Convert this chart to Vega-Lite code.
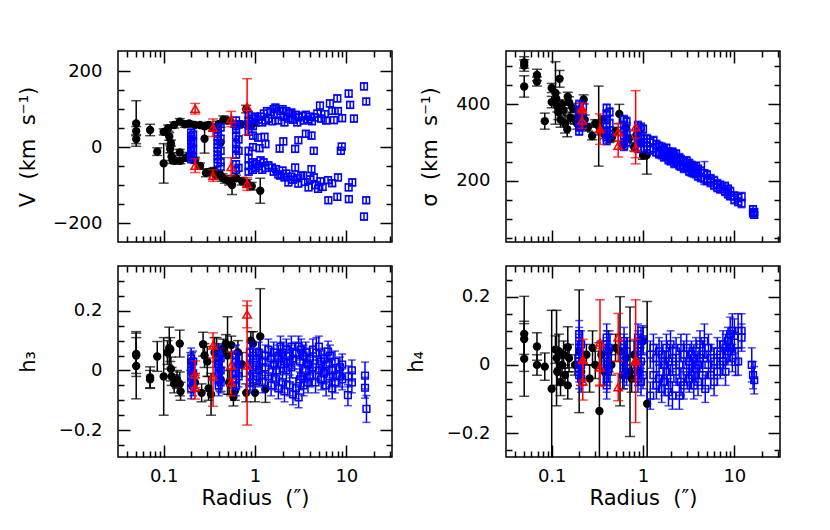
{
"$schema":"https://vega.github.io/schema/vega-lite/v6.json",
"padding":{"left":16,"top":49,"right":5,"bottom":5},
"background":"white",
"columns":2,
"spacing":{"row":24,"column":114},
"bounds":"flush",
"config":{"view":{"stroke":"black","strokeWidth":1.5},"axis":{"grid":false,"domain":false,"labelFont":"DejaVu Sans","labelFontSize":18,"labelColor":"black","titleFont":"DejaVu Sans","titleFontSize":21,"titleFontWeight":"normal","titleColor":"black","tickColor":"black","tickWidth":1.5}},
"datasets":{
"vk":[{"r":0.05,"y":62,"e":60},{"r":0.05,"y":42,"e":12},{"r":0.05,"y":21,"e":12},{"r":0.071,"y":45,"e":15},{"r":0.085,"y":-12,"e":10},{"r":0.1,"y":40,"e":8},{"r":0.1,"y":-43,"e":52},{"r":0.112,"y":50,"e":8},{"r":0.115,"y":28,"e":10},{"r":0.118,"y":-5,"e":10},{"r":0.12,"y":10,"e":8},{"r":0.122,"y":-25,"e":10},{"r":0.125,"y":-35,"e":8},{"r":0.13,"y":58,"e":8},{"r":0.133,"y":-36,"e":8},{"r":0.15,"y":67,"e":8},{"r":0.15,"y":-14,"e":8},{"r":0.152,"y":-36,"e":8},{"r":0.17,"y":60,"e":8},{"r":0.175,"y":-28,"e":8},{"r":0.19,"y":62,"e":6},{"r":0.19,"y":-22,"e":8},{"r":0.22,"y":58,"e":6},{"r":0.22,"y":-35,"e":8},{"r":0.25,"y":58,"e":6},{"r":0.25,"y":-50,"e":8},{"r":0.28,"y":22,"e":38},{"r":0.28,"y":55,"e":6},{"r":0.29,"y":-68,"e":10},{"r":0.31,"y":58,"e":8},{"r":0.32,"y":-65,"e":8},{"r":0.35,"y":52,"e":8},{"r":0.36,"y":-62,"e":8},{"r":0.37,"y":-75,"e":10},{"r":0.4,"y":60,"e":8},{"r":0.42,"y":12,"e":40},{"r":0.41,"y":-70,"e":8},{"r":0.44,"y":-80,"e":10},{"r":0.45,"y":72,"e":10},{"r":0.47,"y":-85,"e":10},{"r":0.5,"y":70,"e":8},{"r":0.52,"y":-90,"e":10},{"r":0.56,"y":-100,"e":25},{"r":0.6,"y":60,"e":8},{"r":0.62,"y":-82,"e":8},{"r":0.7,"y":60,"e":8},{"r":0.72,"y":-90,"e":10},{"r":0.8,"y":100,"e":10},{"r":0.82,"y":-95,"e":10},{"r":0.85,"y":60,"e":8},{"r":0.9,"y":55,"e":8},{"r":0.92,"y":-103,"e":10},{"r":1.0,"y":65,"e":10},{"r":1.14,"y":-115,"e":33}],
"vr":[{"r":0.221,"y":101,"e":14,"f":0},{"r":0.221,"y":-49,"e":18,"f":0},{"r":0.347,"y":51,"e":23,"f":0},{"r":0.347,"y":-75,"e":15,"f":0},{"r":0.548,"y":74,"e":20,"f":0},{"r":0.548,"y":-52,"e":24,"f":0},{"r":0.819,"y":106,"e":74,"f":0},{"r":0.819,"y":-97,"e":17,"f":0}],
"vb":[{"r":0.2,"y":38,"e":9},{"r":0.2,"y":28,"e":9},{"r":0.2,"y":18,"e":9},{"r":0.2,"y":8,"e":9},{"r":0.2,"y":-2,"e":9},{"r":0.2,"y":-12,"e":9},{"r":0.2,"y":-22,"e":9},{"r":0.2,"y":-32,"e":9},{"r":0.21,"y":33,"e":9},{"r":0.21,"y":13,"e":9},{"r":0.21,"y":-7,"e":9},{"r":0.21,"y":-27,"e":9},
{"r":0.39,"y":48,"e":9},{"r":0.39,"y":38,"e":9},{"r":0.39,"y":28,"e":9},{"r":0.39,"y":18,"e":9},{"r":0.39,"y":8,"e":9},{"r":0.39,"y":-2,"e":9},{"r":0.39,"y":-12,"e":9},{"r":0.39,"y":-22,"e":9},{"r":0.39,"y":-32,"e":9},{"r":0.39,"y":-42,"e":9},{"r":0.42,"y":52,"e":9},{"r":0.42,"y":22,"e":9},{"r":0.42,"y":-10,"e":9},{"r":0.42,"y":-40,"e":9},{"r":0.42,"y":-52,"e":9},
{"r":0.62,"y":70,"e":9},{"r":0.62,"y":55,"e":9},{"r":0.62,"y":45,"e":9},{"r":0.62,"y":30,"e":9},{"r":0.62,"y":8,"e":9},{"r":0.62,"y":-5,"e":9},{"r":0.62,"y":-20,"e":9},{"r":0.62,"y":-45,"e":9},{"r":0.62,"y":-60,"e":9},{"r":0.66,"y":60,"e":9},{"r":0.66,"y":20,"e":9},{"r":0.66,"y":-10,"e":9},{"r":0.66,"y":-55,"e":9},
{"r":0.85,"y":85,"e":9},{"r":0.85,"y":70,"e":9},{"r":0.85,"y":60,"e":9},{"r":0.85,"y":40,"e":9},{"r":0.85,"y":-10,"e":9},{"r":0.85,"y":-30,"e":9},{"r":0.85,"y":-50,"e":9},{"r":0.85,"y":-65,"e":9},{"r":0.95,"y":75,"e":9},{"r":0.95,"y":55,"e":9},{"r":0.95,"y":30,"e":9},{"r":0.95,"y":0,"e":9},{"r":0.95,"y":-40,"e":9},{"r":0.95,"y":-60,"e":9},{"r":1.0,"y":80,"e":9},{"r":1.0,"y":-55,"e":9},
{"r":1.1,"y":72,"e":9},{"r":1.15,"y":80,"e":9},{"r":1.2,"y":65,"e":9},{"r":1.25,"y":88,"e":9},{"r":1.3,"y":70,"e":9},{"r":1.35,"y":95,"e":9},{"r":1.4,"y":75,"e":9},{"r":1.5,"y":92,"e":9},{"r":1.55,"y":68,"e":9},{"r":1.6,"y":100,"e":9},{"r":1.67,"y":104,"e":9},{"r":1.75,"y":85,"e":9},{"r":1.8,"y":70,"e":9},{"r":1.9,"y":95,"e":9},{"r":2.0,"y":100,"e":9},{"r":2.05,"y":80,"e":9},{"r":2.1,"y":65,"e":9},{"r":2.2,"y":95,"e":9},{"r":2.3,"y":75,"e":9},{"r":2.4,"y":88,"e":9},{"r":2.5,"y":91,"e":9},{"r":2.6,"y":72,"e":9},{"r":2.8,"y":85,"e":9},{"r":2.9,"y":65,"e":9},{"r":3.0,"y":78,"e":9},{"r":3.25,"y":82,"e":9},{"r":3.4,"y":70,"e":9},{"r":3.6,"y":85,"e":9},{"r":3.8,"y":72,"e":9},{"r":4.0,"y":80,"e":9},{"r":4.2,"y":68,"e":9},{"r":4.5,"y":78,"e":9},{"r":4.8,"y":88,"e":9},{"r":5.14,"y":109,"e":9},{"r":5.3,"y":75,"e":9},{"r":5.8,"y":87,"e":9},{"r":6.0,"y":70,"e":9},{"r":6.6,"y":115,"e":9},{"r":7.0,"y":95,"e":9},{"r":7.3,"y":71,"e":9},{"r":7.96,"y":128,"e":9},{"r":8.1,"y":95,"e":9},{"r":9.0,"y":76,"e":9},{"r":10.6,"y":141,"e":9},{"r":11.0,"y":111,"e":9},{"r":12.1,"y":75,"e":9},{"r":15.6,"y":160,"e":9},{"r":16.5,"y":120,"e":9},
{"r":1.08,"y":25,"e":9},{"r":1.12,"y":-3,"e":9},{"r":1.27,"y":27,"e":9},{"r":1.3,"y":8,"e":9},{"r":1.86,"y":-4,"e":9},{"r":2.04,"y":15,"e":9},{"r":2.75,"y":-5,"e":9},{"r":2.98,"y":18,"e":9},{"r":3.6,"y":35,"e":9},{"r":4.15,"y":30,"e":9},{"r":4.4,"y":-10,"e":9},{"r":8.7,"y":-10,"e":9},{"r":8.9,"y":1,"e":9},
{"r":1.05,"y":-45,"e":9},{"r":1.1,"y":-50,"e":9},{"r":1.15,"y":-35,"e":9},{"r":1.2,"y":-60,"e":9},{"r":1.24,"y":-40,"e":9},{"r":1.3,"y":-55,"e":9},{"r":1.4,"y":-48,"e":9},{"r":1.53,"y":-54,"e":9},{"r":1.6,"y":-65,"e":9},{"r":1.7,"y":-58,"e":9},{"r":1.8,"y":-72,"e":9},{"r":1.89,"y":-75,"e":9},{"r":2.0,"y":-62,"e":9},{"r":2.1,"y":-80,"e":9},{"r":2.2,"y":-70,"e":9},{"r":2.32,"y":-93,"e":9},{"r":2.5,"y":-78,"e":9},{"r":2.6,"y":-86,"e":9},{"r":2.75,"y":-54,"e":9},{"r":2.9,"y":-82,"e":9},{"r":2.98,"y":-96,"e":9},{"r":3.2,"y":-75,"e":9},{"r":3.37,"y":-75,"e":9},{"r":3.5,"y":-92,"e":9},{"r":3.85,"y":-106,"e":9},{"r":4.0,"y":-85,"e":9},{"r":4.15,"y":-58,"e":9},{"r":4.4,"y":-80,"e":9},{"r":4.6,"y":-100,"e":9},{"r":4.9,"y":-110,"e":9},{"r":5.2,"y":-90,"e":9},{"r":5.5,"y":-105,"e":9},{"r":6.3,"y":-87,"e":9},{"r":6.35,"y":-140,"e":9},{"r":7.0,"y":-95,"e":9},{"r":7.96,"y":-131,"e":9},{"r":8.1,"y":-80,"e":9},{"r":10.6,"y":-106,"e":9},{"r":10.65,"y":-137,"e":9},{"r":11.6,"y":-93,"e":9},{"r":15.6,"y":-183,"e":9},{"r":16.5,"y":-140,"e":9}],
"sk":[{"r":0.05,"y":510,"e":15},{"r":0.05,"y":502,"e":15},{"r":0.05,"y":447,"e":28},{"r":0.069,"y":477,"e":15},{"r":0.069,"y":460,"e":12},{"r":0.084,"y":356,"e":21},{"r":0.1,"y":443,"e":12},{"r":0.1,"y":406,"e":15},{"r":0.11,"y":430,"e":82},{"r":0.112,"y":415,"e":15},{"r":0.115,"y":395,"e":15},{"r":0.118,"y":380,"e":20},{"r":0.122,"y":467,"e":22},{"r":0.125,"y":360,"e":20},{"r":0.13,"y":400,"e":12},{"r":0.135,"y":385,"e":15},{"r":0.14,"y":350,"e":25},{"r":0.148,"y":335,"e":20},{"r":0.15,"y":420,"e":12},{"r":0.155,"y":405,"e":15},{"r":0.16,"y":365,"e":15},{"r":0.17,"y":390,"e":12},{"r":0.18,"y":360,"e":12},{"r":0.19,"y":350,"e":15},{"r":0.2,"y":375,"e":12},{"r":0.21,"y":345,"e":12},{"r":0.224,"y":413,"e":12},{"r":0.23,"y":360,"e":12},{"r":0.25,"y":340,"e":10},{"r":0.277,"y":317,"e":10},{"r":0.3,"y":350,"e":10},{"r":0.327,"y":343,"e":105},{"r":0.34,"y":330,"e":10},{"r":0.36,"y":360,"e":10},{"r":0.38,"y":320,"e":10},{"r":0.43,"y":310,"e":10},{"r":0.456,"y":313,"e":10},{"r":0.5,"y":330,"e":10},{"r":0.55,"y":375,"e":25},{"r":0.6,"y":293,"e":10},{"r":0.65,"y":340,"e":12},{"r":0.7,"y":310,"e":10},{"r":0.8,"y":288,"e":10},{"r":0.85,"y":320,"e":12},{"r":0.9,"y":300,"e":10},{"r":1.0,"y":266,"e":10},{"r":1.1,"y":267,"e":50}],
"sr":[{"r":0.215,"y":390,"e":14,"f":1},{"r":0.215,"y":358,"e":21,"f":0},{"r":0.338,"y":335,"e":40,"f":1},{"r":0.535,"y":327,"e":22,"f":0},{"r":0.535,"y":292,"e":30,"f":0},{"r":0.83,"y":340,"e":96,"f":0},{"r":0.83,"y":286,"e":26,"f":0}],
"sb":[{"r":0.2,"y":400,"e":11},{"r":0.2,"y":385,"e":11},{"r":0.2,"y":370,"e":11},{"r":0.2,"y":355,"e":11},{"r":0.2,"y":340,"e":11},{"r":0.2,"y":330,"e":11},{"r":0.22,"y":395,"e":11},{"r":0.22,"y":365,"e":11},{"r":0.22,"y":345,"e":11},
{"r":0.4,"y":390,"e":11},{"r":0.4,"y":375,"e":11},{"r":0.4,"y":360,"e":11},{"r":0.4,"y":345,"e":11},{"r":0.4,"y":330,"e":11},{"r":0.4,"y":315,"e":11},{"r":0.4,"y":305,"e":11},{"r":0.43,"y":380,"e":11},{"r":0.43,"y":350,"e":11},{"r":0.43,"y":320,"e":11},
{"r":0.62,"y":360,"e":11},{"r":0.62,"y":345,"e":11},{"r":0.62,"y":330,"e":11},{"r":0.62,"y":315,"e":11},{"r":0.62,"y":300,"e":11},{"r":0.62,"y":290,"e":11},{"r":0.66,"y":355,"e":11},{"r":0.66,"y":325,"e":11},{"r":0.66,"y":300,"e":11},
{"r":0.88,"y":345,"e":11},{"r":0.88,"y":330,"e":11},{"r":0.88,"y":315,"e":11},{"r":0.88,"y":300,"e":11},{"r":0.88,"y":285,"e":11},{"r":0.95,"y":340,"e":11},{"r":0.95,"y":310,"e":11},{"r":0.95,"y":285,"e":11},{"r":1.0,"y":335,"e":11},{"r":1.0,"y":300,"e":11},
{"r":1.1,"y":310,"e":11},{"r":1.1,"y":290,"e":11},{"r":1.2,"y":300,"e":11},{"r":1.2,"y":280,"e":11},{"r":1.3,"y":305,"e":11},{"r":1.3,"y":285,"e":11},{"r":1.4,"y":295,"e":11},{"r":1.4,"y":275,"e":11},{"r":1.5,"y":290,"e":11},{"r":1.5,"y":270,"e":11},{"r":1.6,"y":288,"e":11},{"r":1.6,"y":268,"e":11},{"r":1.7,"y":280,"e":11},{"r":1.7,"y":262,"e":11},{"r":1.8,"y":285,"e":11},{"r":1.8,"y":265,"e":11},{"r":1.9,"y":275,"e":11},{"r":1.9,"y":255,"e":11},{"r":2.0,"y":272,"e":11},{"r":2.0,"y":252,"e":11},{"r":2.1,"y":275,"e":11},{"r":2.1,"y":258,"e":11},{"r":2.2,"y":265,"e":11},{"r":2.2,"y":245,"e":11},{"r":2.3,"y":270,"e":11},{"r":2.3,"y":250,"e":11},{"r":2.5,"y":260,"e":11},{"r":2.5,"y":240,"e":11},{"r":2.6,"y":255,"e":11},{"r":2.6,"y":238,"e":11},{"r":2.8,"y":250,"e":11},{"r":2.8,"y":232,"e":11},{"r":3.0,"y":252,"e":11},{"r":3.0,"y":235,"e":11},{"r":3.2,"y":245,"e":11},{"r":3.2,"y":225,"e":11},{"r":3.4,"y":240,"e":11},{"r":3.4,"y":222,"e":11},{"r":3.6,"y":235,"e":11},{"r":3.6,"y":220,"e":11},{"r":3.8,"y":238,"e":11},{"r":3.8,"y":218,"e":11},{"r":4.0,"y":230,"e":11},{"r":4.0,"y":212,"e":11},{"r":4.3,"y":225,"e":11},{"r":4.3,"y":208,"e":11},{"r":4.7,"y":220,"e":30},{"r":4.7,"y":205,"e":11},{"r":5.0,"y":215,"e":11},{"r":5.0,"y":200,"e":11},{"r":5.5,"y":205,"e":11},{"r":5.5,"y":195,"e":11},{"r":6.0,"y":200,"e":11},{"r":6.0,"y":188,"e":11},{"r":6.5,"y":192,"e":11},{"r":6.5,"y":182,"e":11},{"r":7.0,"y":188,"e":11},{"r":7.0,"y":178,"e":11},{"r":7.9,"y":185,"e":11},{"r":7.9,"y":172,"e":11},{"r":8.5,"y":178,"e":11},{"r":8.5,"y":165,"e":11},{"r":9.0,"y":172,"e":11},{"r":9.0,"y":160,"e":11},{"r":10,"y":160,"e":11},{"r":10,"y":150,"e":11},{"r":11,"y":155,"e":11},{"r":11,"y":145,"e":11},{"r":12,"y":158,"e":11},{"r":12,"y":140,"e":11},{"r":16,"y":125,"e":8},{"r":16,"y":114,"e":8},{"r":16.5,"y":118,"e":8},{"r":16.5,"y":110,"e":8}],
"h3k":[{"r":0.05,"y":0.055,"e":0.075},{"r":0.05,"y":0.05,"e":0.06},{"r":0.05,"y":0.015,"e":0.11},{"r":0.071,"y":-0.023,"e":0.035},{"r":0.071,"y":-0.03,"e":0.03},{"r":0.085,"y":0.047,"e":0.05},{"r":0.1,"y":-0.02,"e":0.13},{"r":0.11,"y":0.06,"e":0.04},{"r":0.115,"y":0.075,"e":0.07},{"r":0.118,"y":0.07,"e":0.04},{"r":0.12,"y":0.005,"e":0.04},{"r":0.122,"y":-0.02,"e":0.03},{"r":0.13,"y":-0.045,"e":0.03},{"r":0.14,"y":-0.03,"e":0.03},{"r":0.15,"y":0.09,"e":0.045},{"r":0.15,"y":-0.045,"e":0.04},{"r":0.153,"y":-0.07,"e":0.03},{"r":0.2,"y":0.03,"e":0.03},{"r":0.22,"y":-0.04,"e":0.03},{"r":0.26,"y":-0.075,"e":0.03},{"r":0.27,"y":0.088,"e":0.04},{"r":0.28,"y":0.05,"e":0.04},{"r":0.3,"y":0.03,"e":0.05},{"r":0.31,"y":-0.06,"e":0.04},{"r":0.33,"y":-0.08,"e":0.07},{"r":0.36,"y":0.06,"e":0.05},{"r":0.38,"y":0.07,"e":0.04},{"r":0.4,"y":0.04,"e":0.05},{"r":0.42,"y":-0.03,"e":0.04},{"r":0.45,"y":0.075,"e":0.03},{"r":0.48,"y":0.09,"e":0.03},{"r":0.5,"y":0.05,"e":0.13},{"r":0.52,"y":-0.04,"e":0.04},{"r":0.55,"y":0.085,"e":0.03},{"r":0.58,"y":-0.089,"e":0.03},{"r":0.6,"y":-0.07,"e":0.03},{"r":0.65,"y":0.06,"e":0.04},{"r":0.72,"y":0.02,"e":0.04},{"r":0.8,"y":-0.075,"e":0.03},{"r":0.9,"y":0.1,"e":0.03},{"r":0.95,"y":0.09,"e":0.04},{"r":1.0,"y":-0.075,"e":0.03},{"r":1.14,"y":0.114,"e":0.16},{"r":1.3,"y":-0.062,"e":0.045}],
"h3r":[{"r":0.22,"y":-0.013,"e":0.045,"f":0},{"r":0.22,"y":-0.056,"e":0.04,"f":0},{"r":0.347,"y":0.084,"e":0.042,"f":0},{"r":0.347,"y":-0.02,"e":0.1,"f":0},{"r":0.548,"y":0.017,"e":0.045,"f":0},{"r":0.548,"y":-0.04,"e":0.045,"f":0},{"r":0.819,"y":0.188,"e":0.045,"f":0},{"r":0.819,"y":0.017,"e":0.2,"f":0}],
"h3b":[{"r":0.2,"y":0.04,"e":0.035},{"r":0.2,"y":0.02,"e":0.035},{"r":0.2,"y":0.0,"e":0.035},{"r":0.2,"y":-0.02,"e":0.035},{"r":0.2,"y":-0.04,"e":0.035},{"r":0.2,"y":-0.06,"e":0.035},{"r":0.21,"y":0.03,"e":0.035},{"r":0.21,"y":-0.01,"e":0.035},{"r":0.21,"y":-0.05,"e":0.035},
{"r":0.4,"y":0.05,"e":0.035},{"r":0.4,"y":0.03,"e":0.035},{"r":0.4,"y":0.01,"e":0.035},{"r":0.4,"y":-0.01,"e":0.035},{"r":0.4,"y":-0.03,"e":0.035},{"r":0.4,"y":-0.05,"e":0.035},{"r":0.42,"y":0.04,"e":0.035},{"r":0.42,"y":0.0,"e":0.035},{"r":0.42,"y":-0.04,"e":0.035},
{"r":0.62,"y":0.05,"e":0.035},{"r":0.62,"y":0.03,"e":0.035},{"r":0.62,"y":0.01,"e":0.035},{"r":0.62,"y":-0.01,"e":0.035},{"r":0.62,"y":-0.03,"e":0.035},{"r":0.62,"y":-0.05,"e":0.035},{"r":0.66,"y":0.02,"e":0.035},{"r":0.66,"y":-0.02,"e":0.035},
{"r":0.88,"y":0.06,"e":0.035},{"r":0.88,"y":0.04,"e":0.035},{"r":0.88,"y":0.02,"e":0.035},{"r":0.88,"y":0.0,"e":0.035},{"r":0.88,"y":-0.02,"e":0.035},{"r":0.88,"y":-0.04,"e":0.035},{"r":0.95,"y":0.05,"e":0.035},{"r":0.95,"y":0.01,"e":0.035},{"r":0.95,"y":-0.03,"e":0.035},
{"r":1.05,"y":0.04,"e":0.035},{"r":1.05,"y":-0.02,"e":0.035},{"r":1.1,"y":0.06,"e":0.035},{"r":1.1,"y":0.0,"e":0.035},{"r":1.2,"y":0.03,"e":0.035},{"r":1.2,"y":-0.04,"e":0.035},{"r":1.3,"y":0.05,"e":0.035},{"r":1.3,"y":0.01,"e":0.035},{"r":1.4,"y":0.07,"e":0.035},{"r":1.4,"y":-0.02,"e":0.035},{"r":1.5,"y":0.04,"e":0.035},{"r":1.5,"y":-0.05,"e":0.035},{"r":1.6,"y":0.06,"e":0.035},{"r":1.6,"y":0.02,"e":0.035},{"r":1.7,"y":0.0,"e":0.035},{"r":1.7,"y":-0.03,"e":0.035},{"r":1.8,"y":0.05,"e":0.035},{"r":1.8,"y":-0.06,"e":0.035},{"r":1.9,"y":0.08,"e":0.035},{"r":1.9,"y":0.02,"e":0.035},{"r":2.0,"y":0.06,"e":0.035},{"r":2.0,"y":-0.04,"e":0.035},{"r":2.1,"y":0.03,"e":0.035},{"r":2.1,"y":-0.07,"e":0.035},{"r":2.2,"y":0.07,"e":0.035},{"r":2.2,"y":0.0,"e":0.035},{"r":2.4,"y":0.05,"e":0.035},{"r":2.4,"y":-0.05,"e":0.035},{"r":2.5,"y":0.08,"e":0.035},{"r":2.5,"y":0.01,"e":0.035},{"r":2.6,"y":0.04,"e":0.035},{"r":2.6,"y":-0.08,"e":0.035},{"r":2.8,"y":0.06,"e":0.035},{"r":2.8,"y":-0.06,"e":0.035},{"r":3.0,"y":0.08,"e":0.035},{"r":3.0,"y":-0.09,"e":0.035},{"r":3.1,"y":0.03,"e":0.035},{"r":3.1,"y":-0.03,"e":0.035},{"r":3.2,"y":0.07,"e":0.035},{"r":3.2,"y":-0.02,"e":0.035},{"r":3.4,"y":0.05,"e":0.035},{"r":3.4,"y":-0.05,"e":0.035},{"r":3.6,"y":0.06,"e":0.035},{"r":3.6,"y":0.0,"e":0.035},{"r":3.8,"y":0.02,"e":0.035},{"r":3.8,"y":-0.04,"e":0.035},{"r":4.0,"y":0.04,"e":0.035},{"r":4.0,"y":-0.02,"e":0.035},{"r":4.3,"y":0.07,"e":0.035},{"r":4.3,"y":0.01,"e":0.035},{"r":4.7,"y":0.06,"e":0.05},{"r":4.6,"y":-0.04,"e":0.035},{"r":5.0,"y":0.08,"e":0.035},{"r":5.0,"y":0.0,"e":0.035},{"r":5.3,"y":0.03,"e":0.035},{"r":5.3,"y":-0.03,"e":0.035},{"r":5.7,"y":0.04,"e":0.035},{"r":5.7,"y":-0.01,"e":0.035},{"r":6.0,"y":0.02,"e":0.035},{"r":6.0,"y":-0.05,"e":0.035},{"r":6.3,"y":0.063,"e":0.035},{"r":6.6,"y":0.05,"e":0.035},{"r":6.6,"y":-0.02,"e":0.035},{"r":7.0,"y":0.0,"e":0.035},{"r":7.0,"y":-0.06,"e":0.035},{"r":7.5,"y":0.03,"e":0.035},{"r":7.5,"y":-0.04,"e":0.035},{"r":8.5,"y":0.01,"e":0.035},{"r":8.5,"y":-0.02,"e":0.035},{"r":9.0,"y":0.02,"e":0.035},{"r":9.0,"y":-0.03,"e":0.035},{"r":10.4,"y":-0.083,"e":0.035},{"r":10.5,"y":-0.02,"e":0.035},{"r":11.5,"y":0.0,"e":0.035},{"r":11.5,"y":-0.04,"e":0.035},{"r":16,"y":-0.017,"e":0.045},{"r":16,"y":-0.058,"e":0.035},{"r":16.6,"y":-0.129,"e":0.045}],
"h4k":[{"r":0.05,"y":0.091,"e":0.11},{"r":0.05,"y":0.076,"e":0.045},{"r":0.05,"y":0.018,"e":0.11},{"r":0.069,"y":0.054,"e":0.04},{"r":0.069,"y":0.0,"e":0.03},{"r":0.084,"y":-0.005,"e":0.04},{"r":0.1,"y":-0.07,"e":0.23},{"r":0.11,"y":0.045,"e":0.04},{"r":0.113,"y":0.02,"e":0.14},{"r":0.115,"y":-0.02,"e":0.04},{"r":0.12,"y":0.04,"e":0.05},{"r":0.125,"y":-0.05,"e":0.04},{"r":0.13,"y":0.0,"e":0.03},{"r":0.135,"y":0.03,"e":0.04},{"r":0.14,"y":-0.03,"e":0.03},{"r":0.15,"y":0.052,"e":0.06},{"r":0.15,"y":-0.06,"e":0.04},{"r":0.155,"y":0.02,"e":0.04},{"r":0.18,"y":0.0,"e":0.03},{"r":0.2,"y":0.04,"e":0.18},{"r":0.21,"y":-0.02,"e":0.04},{"r":0.24,"y":0.03,"e":0.03},{"r":0.26,"y":-0.04,"e":0.04},{"r":0.28,"y":0.05,"e":0.05},{"r":0.3,"y":0.0,"e":0.04},{"r":0.333,"y":-0.135,"e":0.2},{"r":0.35,"y":0.03,"e":0.04},{"r":0.38,"y":-0.02,"e":0.04},{"r":0.42,"y":0.04,"e":0.06},{"r":0.45,"y":0.0,"e":0.03},{"r":0.5,"y":0.05,"e":0.04},{"r":0.56,"y":0.04,"e":0.16},{"r":0.6,"y":-0.03,"e":0.04},{"r":0.65,"y":0.02,"e":0.05},{"r":0.72,"y":-0.02,"e":0.19},{"r":0.75,"y":-0.04,"e":0.04},{"r":0.8,"y":0.03,"e":0.04},{"r":0.9,"y":-0.02,"e":0.04},{"r":1.0,"y":0.07,"e":0.04},{"r":1.11,"y":-0.114,"e":0.3}],
"h4r":[{"r":0.219,"y":0.015,"e":0.06,"f":1},{"r":0.219,"y":-0.048,"e":0.055,"f":0},{"r":0.338,"y":0.066,"e":0.125,"f":0},{"r":0.338,"y":-0.007,"e":0.055,"f":0},{"r":0.535,"y":0.081,"e":0.07,"f":0},{"r":0.535,"y":-0.065,"e":0.04,"f":0},{"r":0.83,"y":0.011,"e":0.18,"f":0},{"r":0.83,"y":0.015,"e":0.06,"f":1}],
"h4b":[{"r":0.2,"y":0.09,"e":0.04},{"r":0.2,"y":0.07,"e":0.04},{"r":0.2,"y":0.05,"e":0.04},{"r":0.2,"y":0.03,"e":0.04},{"r":0.2,"y":0.01,"e":0.04},{"r":0.2,"y":-0.01,"e":0.04},{"r":0.2,"y":-0.03,"e":0.04},{"r":0.21,"y":0.06,"e":0.04},{"r":0.21,"y":0.0,"e":0.04},{"r":0.21,"y":-0.04,"e":0.04},
{"r":0.4,"y":0.08,"e":0.04},{"r":0.4,"y":0.06,"e":0.04},{"r":0.4,"y":0.04,"e":0.04},{"r":0.4,"y":0.02,"e":0.04},{"r":0.4,"y":0.0,"e":0.04},{"r":0.4,"y":-0.02,"e":0.04},{"r":0.4,"y":-0.04,"e":0.04},{"r":0.4,"y":-0.06,"e":0.04},{"r":0.42,"y":0.05,"e":0.04},{"r":0.42,"y":-0.01,"e":0.04},
{"r":0.62,"y":0.07,"e":0.04},{"r":0.62,"y":0.05,"e":0.04},{"r":0.62,"y":0.03,"e":0.04},{"r":0.62,"y":0.01,"e":0.04},{"r":0.62,"y":-0.01,"e":0.04},{"r":0.62,"y":-0.03,"e":0.04},{"r":0.66,"y":0.04,"e":0.04},{"r":0.66,"y":-0.02,"e":0.04},
{"r":0.88,"y":0.08,"e":0.04},{"r":0.88,"y":0.06,"e":0.04},{"r":0.88,"y":0.04,"e":0.04},{"r":0.88,"y":0.02,"e":0.04},{"r":0.88,"y":0.0,"e":0.04},{"r":0.88,"y":-0.02,"e":0.04},{"r":0.88,"y":-0.04,"e":0.04},{"r":0.95,"y":0.07,"e":0.04},{"r":0.95,"y":0.01,"e":0.04},{"r":0.95,"y":-0.05,"e":0.04},{"r":1.0,"y":0.075,"e":0.04},{"r":1.0,"y":-0.03,"e":0.04},
{"r":1.2,"y":-0.09,"e":0.04},{"r":1.2,"y":0.03,"e":0.04},{"r":1.3,"y":0.05,"e":0.04},{"r":1.3,"y":-0.03,"e":0.04},{"r":1.4,"y":0.02,"e":0.04},{"r":1.4,"y":-0.06,"e":0.04},{"r":1.5,"y":0.04,"e":0.04},{"r":1.5,"y":-0.04,"e":0.04},{"r":1.6,"y":0.03,"e":0.04},{"r":1.6,"y":-0.07,"e":0.04},{"r":1.7,"y":0.0,"e":0.04},{"r":1.7,"y":-0.05,"e":0.04},{"r":1.8,"y":0.05,"e":0.04},{"r":1.8,"y":-0.02,"e":0.04},{"r":1.9,"y":-0.08,"e":0.04},{"r":1.9,"y":0.01,"e":0.04},{"r":2.0,"y":0.06,"e":0.04},{"r":2.0,"y":-0.04,"e":0.04},{"r":2.1,"y":0.02,"e":0.04},{"r":2.1,"y":-0.09,"e":0.04},{"r":2.3,"y":-0.02,"e":0.04},{"r":2.3,"y":0.04,"e":0.04},{"r":2.5,"y":-0.09,"e":0.04},{"r":2.5,"y":0.0,"e":0.04},{"r":2.6,"y":0.05,"e":0.04},{"r":2.6,"y":-0.05,"e":0.04},{"r":2.8,"y":0.03,"e":0.04},{"r":2.8,"y":-0.06,"e":0.04},{"r":3.0,"y":0.05,"e":0.04},{"r":3.0,"y":-0.02,"e":0.04},{"r":3.2,"y":0.01,"e":0.04},{"r":3.2,"y":-0.04,"e":0.04},{"r":3.4,"y":-0.03,"e":0.04},{"r":3.4,"y":0.03,"e":0.04},{"r":3.6,"y":0.02,"e":0.04},{"r":3.6,"y":-0.06,"e":0.04},{"r":3.8,"y":0.04,"e":0.04},{"r":3.8,"y":-0.01,"e":0.04},{"r":4.0,"y":0.0,"e":0.04},{"r":4.0,"y":-0.05,"e":0.04},{"r":4.2,"y":0.06,"e":0.04},{"r":4.2,"y":0.02,"e":0.04},{"r":4.5,"y":0.03,"e":0.04},{"r":4.5,"y":-0.03,"e":0.04},{"r":4.7,"y":0.07,"e":0.05},{"r":4.8,"y":-0.07,"e":0.04},{"r":5.2,"y":0.05,"e":0.04},{"r":5.2,"y":0.0,"e":0.04},{"r":5.5,"y":0.02,"e":0.04},{"r":5.5,"y":-0.03,"e":0.04},{"r":6.0,"y":0.01,"e":0.04},{"r":6.0,"y":-0.05,"e":0.04},{"r":6.5,"y":0.04,"e":0.04},{"r":6.5,"y":-0.02,"e":0.04},{"r":7.0,"y":0.03,"e":0.04},{"r":7.0,"y":0.0,"e":0.04},{"r":7.5,"y":0.06,"e":0.04},{"r":7.5,"y":0.01,"e":0.04},{"r":8.0,"y":0.05,"e":0.04},{"r":8.0,"y":-0.02,"e":0.04},{"r":8.5,"y":0.07,"e":0.04},{"r":8.5,"y":0.04,"e":0.04},{"r":9.0,"y":0.09,"e":0.05},{"r":9.0,"y":0.05,"e":0.04},{"r":9.5,"y":0.1,"e":0.05},{"r":9.5,"y":0.02,"e":0.04},{"r":10,"y":0.085,"e":0.05},{"r":10.3,"y":0.009,"e":0.04},{"r":11,"y":0.1,"e":0.05},{"r":11,"y":0.01,"e":0.04},{"r":12,"y":0.1,"e":0.05},{"r":12,"y":0.08,"e":0.04},{"r":15.5,"y":0.0,"e":0.05},{"r":16,"y":-0.03,"e":0.04},{"r":16.5,"y":-0.045,"e":0.04}]
},
"concat":[
{"width":274,"height":191,"resolve":{"axis":{"x":"independent","y":"independent"}},
"layer":[
{"data":{"name":"vk"},"mark":{"type":"errorbar","ticks":{"size":10},"thickness":1.5,"color":"black","clip":true},"encoding":{"x":{"field":"r","type":"quantitative","scale":{"type":"log","domain":[0.0316,31.6],"nice":false},"axis":null},"y":{"field":"y","type":"quantitative","scale":{"domain":[-250,253],"nice":false,"zero":false},"axis":null},"yError":{"field":"e"}}},
{"data":{"name":"vk"},"mark":{"type":"circle","color":"black","size":70,"opacity":1,"clip":true},"encoding":{"x":{"field":"r","type":"quantitative","scale":{"type":"log","domain":[0.0316,31.6],"nice":false},"axis":null},"y":{"field":"y","type":"quantitative","scale":{"domain":[-250,253],"nice":false,"zero":false},"axis":{"orient":"left","values":[-200,0,200],"ticks":false,"labelPadding":16,"format":"~r","title":"V\u00a0\u00a0(km\u00a0\u00a0s⁻¹)","titleX":-80}}}},
{"data":{"name":"vb"},"mark":{"type":"errorbar","ticks":{"size":8},"thickness":1.5,"color":"blue","clip":true},"encoding":{"x":{"field":"r","type":"quantitative","scale":{"type":"log","domain":[0.0316,31.6],"nice":false},"axis":null},"y":{"field":"y","type":"quantitative","scale":{"domain":[-250,253],"nice":false,"zero":false},"axis":null},"yError":{"field":"e"}}},
{"data":{"name":"vb"},"mark":{"type":"point","shape":"square","filled":false,"color":"blue","strokeWidth":1.5,"size":45,"opacity":1,"clip":true},"encoding":{"x":{"field":"r","type":"quantitative","scale":{"type":"log","domain":[0.0316,31.6],"nice":false},"axis":{"orient":"bottom","values":[0.1,1,10],"offset":-12,"tickSize":12,"labels":false,"title":null}},"y":{"field":"y","type":"quantitative","scale":{"domain":[-250,253],"nice":false,"zero":false},"axis":{"orient":"left","values":[-200,0,200],"offset":-12,"tickSize":12,"labels":false,"title":null}}}},
{"data":{"name":"vr"},"mark":{"type":"errorbar","ticks":{"size":10},"thickness":1.5,"color":"red","clip":true},"encoding":{"x":{"field":"r","type":"quantitative","scale":{"type":"log","domain":[0.0316,31.6],"nice":false},"axis":null},"y":{"field":"y","type":"quantitative","scale":{"domain":[-250,253],"nice":false,"zero":false},"axis":null},"yError":{"field":"e"}}},
{"data":{"name":"vr"},"mark":{"type":"point","shape":"triangle-up","color":"red","strokeWidth":1.5,"size":70,"opacity":1,"clip":true},"encoding":{"x":{"field":"r","type":"quantitative","scale":{"type":"log","domain":[0.0316,31.6],"nice":false},"axis":{"orient":"bottom","values":[0.04,0.05,0.06,0.07,0.08,0.09,0.2,0.3,0.4,0.5,0.6,0.7,0.8,0.9,2,3,4,5,6,7,8,9,20,30],"offset":-6,"tickSize":6,"labels":false,"title":null}},"y":{"field":"y","type":"quantitative","scale":{"domain":[-250,253],"nice":false,"zero":false},"axis":{"orient":"left","values":[-150,-100,-50,50,100,150],"offset":-6,"tickSize":6,"labels":false,"title":null}},"fill":{"field":"f","type":"nominal","scale":{"domain":[0,1],"range":["transparent","red"]},"legend":null}}},
{"data":{"name":"vk"},"mark":{"type":"point","opacity":0},"encoding":{"x":{"field":"r","type":"quantitative","scale":{"type":"log","domain":[0.0316,31.6],"nice":false},"axis":{"orient":"top","values":[0.1,1,10],"offset":-12,"tickSize":12,"labels":false,"title":null}},"y":{"field":"y","type":"quantitative","scale":{"domain":[-250,253],"nice":false,"zero":false},"axis":{"orient":"right","values":[-200,0,200],"offset":-12,"tickSize":12,"labels":false,"title":null}}}},
{"data":{"name":"vk"},"mark":{"type":"point","opacity":0},"encoding":{"x":{"field":"r","type":"quantitative","scale":{"type":"log","domain":[0.0316,31.6],"nice":false},"axis":{"orient":"top","values":[0.04,0.05,0.06,0.07,0.08,0.09,0.2,0.3,0.4,0.5,0.6,0.7,0.8,0.9,2,3,4,5,6,7,8,9,20,30],"offset":-6,"tickSize":6,"labels":false,"title":null}},"y":{"field":"y","type":"quantitative","scale":{"domain":[-250,253],"nice":false,"zero":false},"axis":{"orient":"right","values":[-150,-100,-50,50,100,150],"offset":-6,"tickSize":6,"labels":false,"title":null}}}}
]},
{"width":274,"height":191,"resolve":{"axis":{"x":"independent","y":"independent"}},
"layer":[
{"data":{"name":"sk"},"mark":{"type":"errorbar","ticks":{"size":10},"thickness":1.5,"color":"black","clip":true},"encoding":{"x":{"field":"r","type":"quantitative","scale":{"type":"log","domain":[0.0316,31.6],"nice":false},"axis":null},"y":{"field":"y","type":"quantitative","scale":{"domain":[39,540],"nice":false,"zero":false},"axis":null},"yError":{"field":"e"}}},
{"data":{"name":"sk"},"mark":{"type":"circle","color":"black","size":70,"opacity":1,"clip":true},"encoding":{"x":{"field":"r","type":"quantitative","scale":{"type":"log","domain":[0.0316,31.6],"nice":false},"axis":null},"y":{"field":"y","type":"quantitative","scale":{"domain":[39,540],"nice":false,"zero":false},"axis":{"orient":"left","values":[200,400],"ticks":false,"labelPadding":16,"format":"~r","title":"σ\u00a0\u00a0(km\u00a0\u00a0s⁻¹)","titleX":-66}}}},
{"data":{"name":"sb"},"mark":{"type":"errorbar","ticks":{"size":8},"thickness":1.5,"color":"blue","clip":true},"encoding":{"x":{"field":"r","type":"quantitative","scale":{"type":"log","domain":[0.0316,31.6],"nice":false},"axis":null},"y":{"field":"y","type":"quantitative","scale":{"domain":[39,540],"nice":false,"zero":false},"axis":null},"yError":{"field":"e"}}},
{"data":{"name":"sb"},"mark":{"type":"point","shape":"square","filled":false,"color":"blue","strokeWidth":1.5,"size":45,"opacity":1,"clip":true},"encoding":{"x":{"field":"r","type":"quantitative","scale":{"type":"log","domain":[0.0316,31.6],"nice":false},"axis":{"orient":"bottom","values":[0.1,1,10],"offset":-12,"tickSize":12,"labels":false,"title":null}},"y":{"field":"y","type":"quantitative","scale":{"domain":[39,540],"nice":false,"zero":false},"axis":{"orient":"left","values":[200,400],"offset":-12,"tickSize":12,"labels":false,"title":null}}}},
{"data":{"name":"sr"},"mark":{"type":"errorbar","ticks":{"size":10},"thickness":1.5,"color":"red","clip":true},"encoding":{"x":{"field":"r","type":"quantitative","scale":{"type":"log","domain":[0.0316,31.6],"nice":false},"axis":null},"y":{"field":"y","type":"quantitative","scale":{"domain":[39,540],"nice":false,"zero":false},"axis":null},"yError":{"field":"e"}}},
{"data":{"name":"sr"},"mark":{"type":"point","shape":"triangle-up","color":"red","strokeWidth":1.5,"size":70,"opacity":1,"clip":true},"encoding":{"x":{"field":"r","type":"quantitative","scale":{"type":"log","domain":[0.0316,31.6],"nice":false},"axis":{"orient":"bottom","values":[0.04,0.05,0.06,0.07,0.08,0.09,0.2,0.3,0.4,0.5,0.6,0.7,0.8,0.9,2,3,4,5,6,7,8,9,20,30],"offset":-6,"tickSize":6,"labels":false,"title":null}},"y":{"field":"y","type":"quantitative","scale":{"domain":[39,540],"nice":false,"zero":false},"axis":{"orient":"left","values":[50,100,150,250,300,350,450,500],"offset":-6,"tickSize":6,"labels":false,"title":null}},"fill":{"field":"f","type":"nominal","scale":{"domain":[0,1],"range":["transparent","red"]},"legend":null}}},
{"data":{"name":"sk"},"mark":{"type":"point","opacity":0},"encoding":{"x":{"field":"r","type":"quantitative","scale":{"type":"log","domain":[0.0316,31.6],"nice":false},"axis":{"orient":"top","values":[0.1,1,10],"offset":-12,"tickSize":12,"labels":false,"title":null}},"y":{"field":"y","type":"quantitative","scale":{"domain":[39,540],"nice":false,"zero":false},"axis":{"orient":"right","values":[200,400],"offset":-12,"tickSize":12,"labels":false,"title":null}}}},
{"data":{"name":"sk"},"mark":{"type":"point","opacity":0},"encoding":{"x":{"field":"r","type":"quantitative","scale":{"type":"log","domain":[0.0316,31.6],"nice":false},"axis":{"orient":"top","values":[0.04,0.05,0.06,0.07,0.08,0.09,0.2,0.3,0.4,0.5,0.6,0.7,0.8,0.9,2,3,4,5,6,7,8,9,20,30],"offset":-6,"tickSize":6,"labels":false,"title":null}},"y":{"field":"y","type":"quantitative","scale":{"domain":[39,540],"nice":false,"zero":false},"axis":{"orient":"right","values":[50,100,150,250,300,350,450,500],"offset":-6,"tickSize":6,"labels":false,"title":null}}}}
]},
{"width":274,"height":191,"resolve":{"axis":{"x":"independent","y":"independent"}},
"layer":[
{"data":{"name":"h3k"},"mark":{"type":"errorbar","ticks":{"size":10},"thickness":1.5,"color":"black","clip":true},"encoding":{"x":{"field":"r","type":"quantitative","scale":{"type":"log","domain":[0.0316,31.6],"nice":false},"axis":null},"y":{"field":"y","type":"quantitative","scale":{"domain":[-0.29,0.35],"nice":false,"zero":false},"axis":null},"yError":{"field":"e"}}},
{"data":{"name":"h3k"},"mark":{"type":"circle","color":"black","size":70,"opacity":1,"clip":true},"encoding":{"x":{"field":"r","type":"quantitative","scale":{"type":"log","domain":[0.0316,31.6],"nice":false},"axis":{"orient":"bottom","values":[0.1,1,10],"ticks":false,"labelPadding":10,"format":"~r","title":"Radius\u00a0\u00a0(″)","titleY":30}},"y":{"field":"y","type":"quantitative","scale":{"domain":[-0.29,0.35],"nice":false,"zero":false},"axis":{"orient":"left","values":[-0.2,0,0.2],"ticks":false,"labelPadding":16,"format":"~r","title":"h₃","titleX":-80}}}},
{"data":{"name":"h3b"},"mark":{"type":"errorbar","ticks":{"size":8},"thickness":1.5,"color":"blue","clip":true},"encoding":{"x":{"field":"r","type":"quantitative","scale":{"type":"log","domain":[0.0316,31.6],"nice":false},"axis":null},"y":{"field":"y","type":"quantitative","scale":{"domain":[-0.29,0.35],"nice":false,"zero":false},"axis":null},"yError":{"field":"e"}}},
{"data":{"name":"h3b"},"mark":{"type":"point","shape":"square","filled":false,"color":"blue","strokeWidth":1.5,"size":45,"opacity":1,"clip":true},"encoding":{"x":{"field":"r","type":"quantitative","scale":{"type":"log","domain":[0.0316,31.6],"nice":false},"axis":{"orient":"bottom","values":[0.1,1,10],"offset":-12,"tickSize":12,"labels":false,"title":null}},"y":{"field":"y","type":"quantitative","scale":{"domain":[-0.29,0.35],"nice":false,"zero":false},"axis":{"orient":"left","values":[-0.2,0,0.2],"offset":-12,"tickSize":12,"labels":false,"title":null}}}},
{"data":{"name":"h3r"},"mark":{"type":"errorbar","ticks":{"size":10},"thickness":1.5,"color":"red","clip":true},"encoding":{"x":{"field":"r","type":"quantitative","scale":{"type":"log","domain":[0.0316,31.6],"nice":false},"axis":null},"y":{"field":"y","type":"quantitative","scale":{"domain":[-0.29,0.35],"nice":false,"zero":false},"axis":null},"yError":{"field":"e"}}},
{"data":{"name":"h3r"},"mark":{"type":"point","shape":"triangle-up","color":"red","strokeWidth":1.5,"size":70,"opacity":1,"clip":true},"encoding":{"x":{"field":"r","type":"quantitative","scale":{"type":"log","domain":[0.0316,31.6],"nice":false},"axis":{"orient":"bottom","values":[0.04,0.05,0.06,0.07,0.08,0.09,0.2,0.3,0.4,0.5,0.6,0.7,0.8,0.9,2,3,4,5,6,7,8,9,20,30],"offset":-6,"tickSize":6,"labels":false,"title":null}},"y":{"field":"y","type":"quantitative","scale":{"domain":[-0.29,0.35],"nice":false,"zero":false},"axis":{"orient":"left","values":[-0.25,-0.15,-0.1,-0.05,0.05,0.1,0.15,0.25,0.3],"offset":-6,"tickSize":6,"labels":false,"title":null}},"fill":{"field":"f","type":"nominal","scale":{"domain":[0,1],"range":["transparent","red"]},"legend":null}}},
{"data":{"name":"h3k"},"mark":{"type":"point","opacity":0},"encoding":{"x":{"field":"r","type":"quantitative","scale":{"type":"log","domain":[0.0316,31.6],"nice":false},"axis":{"orient":"top","values":[0.1,1,10],"offset":-12,"tickSize":12,"labels":false,"title":null}},"y":{"field":"y","type":"quantitative","scale":{"domain":[-0.29,0.35],"nice":false,"zero":false},"axis":{"orient":"right","values":[-0.2,0,0.2],"offset":-12,"tickSize":12,"labels":false,"title":null}}}},
{"data":{"name":"h3k"},"mark":{"type":"point","opacity":0},"encoding":{"x":{"field":"r","type":"quantitative","scale":{"type":"log","domain":[0.0316,31.6],"nice":false},"axis":{"orient":"top","values":[0.04,0.05,0.06,0.07,0.08,0.09,0.2,0.3,0.4,0.5,0.6,0.7,0.8,0.9,2,3,4,5,6,7,8,9,20,30],"offset":-6,"tickSize":6,"labels":false,"title":null}},"y":{"field":"y","type":"quantitative","scale":{"domain":[-0.29,0.35],"nice":false,"zero":false},"axis":{"orient":"right","values":[-0.25,-0.15,-0.1,-0.05,0.05,0.1,0.15,0.25,0.3],"offset":-6,"tickSize":6,"labels":false,"title":null}}}}
]},
{"width":274,"height":191,"resolve":{"axis":{"x":"independent","y":"independent"}},
"layer":[
{"data":{"name":"h4k"},"mark":{"type":"errorbar","ticks":{"size":10},"thickness":1.5,"color":"black","clip":true},"encoding":{"x":{"field":"r","type":"quantitative","scale":{"type":"log","domain":[0.0316,31.6],"nice":false},"axis":null},"y":{"field":"y","type":"quantitative","scale":{"domain":[-0.27,0.29],"nice":false,"zero":false},"axis":null},"yError":{"field":"e"}}},
{"data":{"name":"h4k"},"mark":{"type":"circle","color":"black","size":70,"opacity":1,"clip":true},"encoding":{"x":{"field":"r","type":"quantitative","scale":{"type":"log","domain":[0.0316,31.6],"nice":false},"axis":{"orient":"bottom","values":[0.1,1,10],"ticks":false,"labelPadding":10,"format":"~r","title":"Radius\u00a0\u00a0(″)","titleY":30}},"y":{"field":"y","type":"quantitative","scale":{"domain":[-0.27,0.29],"nice":false,"zero":false},"axis":{"orient":"left","values":[-0.2,0,0.2],"ticks":false,"labelPadding":16,"format":"~r","title":"h₄","titleX":-80}}}},
{"data":{"name":"h4b"},"mark":{"type":"errorbar","ticks":{"size":8},"thickness":1.5,"color":"blue","clip":true},"encoding":{"x":{"field":"r","type":"quantitative","scale":{"type":"log","domain":[0.0316,31.6],"nice":false},"axis":null},"y":{"field":"y","type":"quantitative","scale":{"domain":[-0.27,0.29],"nice":false,"zero":false},"axis":null},"yError":{"field":"e"}}},
{"data":{"name":"h4b"},"mark":{"type":"point","shape":"square","filled":false,"color":"blue","strokeWidth":1.5,"size":45,"opacity":1,"clip":true},"encoding":{"x":{"field":"r","type":"quantitative","scale":{"type":"log","domain":[0.0316,31.6],"nice":false},"axis":{"orient":"bottom","values":[0.1,1,10],"offset":-12,"tickSize":12,"labels":false,"title":null}},"y":{"field":"y","type":"quantitative","scale":{"domain":[-0.27,0.29],"nice":false,"zero":false},"axis":{"orient":"left","values":[-0.2,0,0.2],"offset":-12,"tickSize":12,"labels":false,"title":null}}}},
{"data":{"name":"h4r"},"mark":{"type":"errorbar","ticks":{"size":10},"thickness":1.5,"color":"red","clip":true},"encoding":{"x":{"field":"r","type":"quantitative","scale":{"type":"log","domain":[0.0316,31.6],"nice":false},"axis":null},"y":{"field":"y","type":"quantitative","scale":{"domain":[-0.27,0.29],"nice":false,"zero":false},"axis":null},"yError":{"field":"e"}}},
{"data":{"name":"h4r"},"mark":{"type":"point","shape":"triangle-up","color":"red","strokeWidth":1.5,"size":70,"opacity":1,"clip":true},"encoding":{"x":{"field":"r","type":"quantitative","scale":{"type":"log","domain":[0.0316,31.6],"nice":false},"axis":{"orient":"bottom","values":[0.04,0.05,0.06,0.07,0.08,0.09,0.2,0.3,0.4,0.5,0.6,0.7,0.8,0.9,2,3,4,5,6,7,8,9,20,30],"offset":-6,"tickSize":6,"labels":false,"title":null}},"y":{"field":"y","type":"quantitative","scale":{"domain":[-0.27,0.29],"nice":false,"zero":false},"axis":{"orient":"left","values":[-0.25,-0.15,-0.1,-0.05,0.05,0.1,0.15,0.25],"offset":-6,"tickSize":6,"labels":false,"title":null}},"fill":{"field":"f","type":"nominal","scale":{"domain":[0,1],"range":["transparent","red"]},"legend":null}}},
{"data":{"name":"h4k"},"mark":{"type":"point","opacity":0},"encoding":{"x":{"field":"r","type":"quantitative","scale":{"type":"log","domain":[0.0316,31.6],"nice":false},"axis":{"orient":"top","values":[0.1,1,10],"offset":-12,"tickSize":12,"labels":false,"title":null}},"y":{"field":"y","type":"quantitative","scale":{"domain":[-0.27,0.29],"nice":false,"zero":false},"axis":{"orient":"right","values":[-0.2,0,0.2],"offset":-12,"tickSize":12,"labels":false,"title":null}}}},
{"data":{"name":"h4k"},"mark":{"type":"point","opacity":0},"encoding":{"x":{"field":"r","type":"quantitative","scale":{"type":"log","domain":[0.0316,31.6],"nice":false},"axis":{"orient":"top","values":[0.04,0.05,0.06,0.07,0.08,0.09,0.2,0.3,0.4,0.5,0.6,0.7,0.8,0.9,2,3,4,5,6,7,8,9,20,30],"offset":-6,"tickSize":6,"labels":false,"title":null}},"y":{"field":"y","type":"quantitative","scale":{"domain":[-0.27,0.29],"nice":false,"zero":false},"axis":{"orient":"right","values":[-0.25,-0.15,-0.1,-0.05,0.05,0.1,0.15,0.25],"offset":-6,"tickSize":6,"labels":false,"title":null}}}}
]}
]
}
